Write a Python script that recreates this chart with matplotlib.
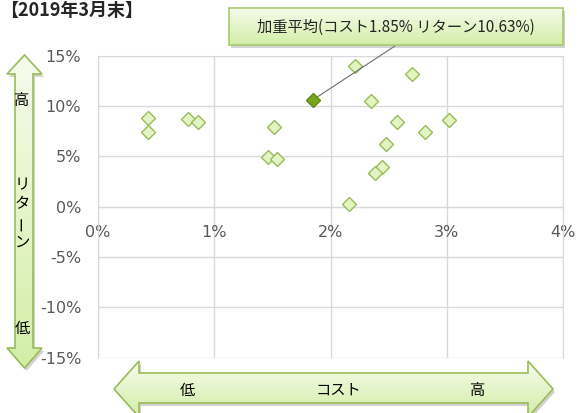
import matplotlib
matplotlib.use("Agg")
import matplotlib.pyplot as plt
import numpy as np
from matplotlib.colors import LinearSegmentedColormap
from matplotlib.patches import Polygon

plt.rcParams['font.family'] = ['Noto Sans CJK JP', 'DejaVu Sans']

# fund data: cost (%) and return (%)
cost = [0.43, 0.43, 0.77, 0.86, 1.51, 1.46, 1.54,
        2.21, 2.70, 2.35, 2.57, 3.02, 2.81, 2.48, 2.44, 2.38, 2.16]
ret = [8.8, 7.4, 8.7, 8.4, 7.9, 4.9, 4.7,
       14.0, 13.2, 10.5, 8.4, 8.6, 7.4, 6.2, 3.9, 3.3, 0.3]
avg_cost = 1.85
avg_ret = 10.63
avg_label = "加重平均(コスト1.85% リターン10.63%)"
title = "【2019年3月末】"
x_ticks = [0, 1, 2, 3, 4]
y_ticks = [15, 10, 5, 0, -5, -10, -15]

W, H = 577, 413
fig = plt.figure(figsize=(W / 100, H / 100), dpi=100)
ax = fig.add_axes([98 / W, 1 - 357.7 / H, 465 / W, 302 / H])

grid_c = '#d9d9d9'
ax.set_xlim(0, 4)
ax.set_ylim(-15, 15)
ax.set_xticks(x_ticks)
ax.set_yticks(y_ticks)
ax.set_xticklabels([f"{t}%" for t in x_ticks])
ax.set_yticklabels([f"{t}%" for t in y_ticks])
ax.grid(True, color=grid_c, lw=1)
ax.set_axisbelow(True)
for s in ax.spines.values():
    s.set_color(grid_c)
ax.spines['bottom'].set_position(('data', 0))
ax.tick_params(length=0, labelsize=11.5, labelcolor='#595959')
ax.tick_params(axis='x', pad=13)
ax.tick_params(axis='y', pad=12)
for lab in ax.get_xticklabels() + ax.get_yticklabels():
    lab.set_family('DejaVu Sans')

ax.plot(cost, ret, 'D', ms=7.6, mfc='#e2f4c2', mec='#9bbb59', mew=1.0,
        linestyle='none', clip_on=False, zorder=3)
ax.plot([avg_cost], [avg_ret], 'D', ms=7.6, mfc='#76a51c', mec='#5f8a14',
        mew=1.0, clip_on=False, zorder=4)

# overlay in pixel coordinates for the decorative arrows and callout
ov = fig.add_axes([0, 0, 1, 1], zorder=5)
ov.patch.set_alpha(0)
ov.axis('off')

cmap = LinearSegmentedColormap.from_list('g', ['#f6fbec', '#d2eea6'])
grad = np.linspace(0, 1, 256).reshape(-1, 1)


def grad_poly(pts, edge='#9bbb59'):
    pts = np.array(pts)
    sh = Polygon(pts + [2, 3], closed=True, fc='#808080', ec='none', alpha=0.35)
    ov.add_patch(sh)
    poly = Polygon(pts, closed=True, fc='none', ec=edge, lw=1.2, zorder=3)
    ov.add_patch(poly)
    x0, y0 = pts.min(axis=0)
    x1, y1 = pts.max(axis=0)
    im = ov.imshow(grad, extent=(x0, x1, y1, y0), cmap=cmap, aspect='auto',
                   origin='upper', zorder=2)
    im.set_clip_path(poly)


# vertical return arrow
grad_poly([(24.5, 55), (42, 74), (33, 74), (33, 348), (42, 348), (24.5, 368),
           (7, 348), (15, 348), (15, 74), (7, 74)])
# horizontal cost arrow
grad_poly([(114, 389), (139, 361), (139, 373), (528, 373), (528, 361), (553, 389),
           (528, 417), (528, 403), (139, 403), (139, 417)])

# callout box
grad_poly([(229, 8), (563, 8), (563, 45), (229, 45)], edge='#a9c96f')

ov.set_xlim(0, W)
ov.set_ylim(H, 0)

fs = 11
ov.text(396, 27, avg_label, ha='center', va='center', fontsize=fs, color='#262626', zorder=4)
ov.text(0, 1, title, ha='left', va='top', fontsize=13, fontweight='bold',
        color='#262626')

ov.text(22, 100, "高", ha='center', va='center', fontsize=fs, zorder=4)
ov.text(22, 185, "リ", ha='center', va='center', fontsize=fs, zorder=4)
ov.text(22, 204, "タ", ha='center', va='center', fontsize=fs, zorder=4)
ov.text(22, 223, "ー", ha='center', va='center', fontsize=fs, rotation=90, zorder=4)
ov.text(22, 242, "ン", ha='center', va='center', fontsize=fs, zorder=4)
ov.text(22, 328, "低", ha='center', va='center', fontsize=fs, zorder=4)

ov.text(187, 390, "低", ha='center', va='center', fontsize=fs, zorder=4)
ov.text(338, 390, "コスト", ha='center', va='center', fontsize=fs, zorder=4)
ov.text(478, 390, "高", ha='center', va='center', fontsize=fs, zorder=4)

ax.annotate('', xy=(avg_cost, avg_ret), xycoords='data',
            xytext=(395, 46), textcoords=ov.transData,
            arrowprops=dict(arrowstyle='-', color='#6e6e6e', lw=0.8,
                            shrinkA=0, shrinkB=4))

fig.savefig('out.png', dpi=100)
